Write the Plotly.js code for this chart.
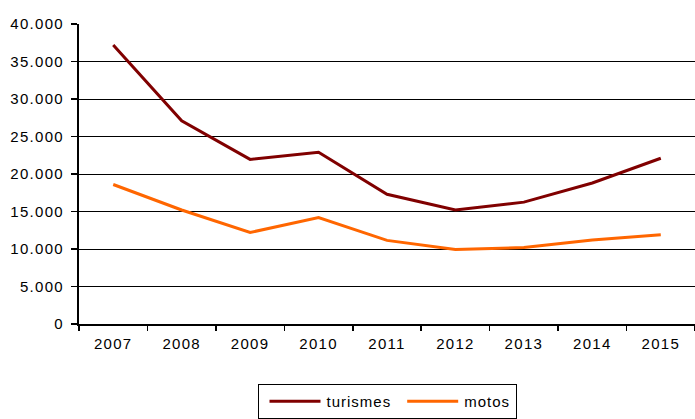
<!DOCTYPE html>
<html>
<head>
<meta charset="utf-8">
<script src="https://cdn.plot.ly/plotly-3.0.1.min.js"></script>
<style>
html,body{margin:0;padding:0;background:#fff;}
#chart{width:695px;height:419px;}
#chart .xtick text, #chart .ytick text{letter-spacing:1.3px;}
text.legendtext{letter-spacing:1px;}
</style>
</head>
<body>
<div id="chart"></div>
<script>
const years = ['2007','2008','2009','2010','2011','2012','2013','2014','2015'];
const turismes = [37200, 27100, 21950, 22900, 17300, 15200, 16250, 18800, 22100];
const motos = [18600, 15200, 12200, 14200, 11150, 9950, 10200, 11200, 11900];
const yTicks = [0, 5000, 10000, 15000, 20000, 25000, 30000, 35000, 40000];

const traces = [
  {x: years, y: turismes, name: 'turismes', type: 'scatter', mode: 'lines',
   line: {color: '#800000', width: 3}},
  {x: years, y: motos, name: 'motos', type: 'scatter', mode: 'lines',
   line: {color: '#FF6600', width: 3}}
];

const layout = {
  width: 695, height: 419,
  margin: {l: 79, r: 0, t: 24, b: 95},
  paper_bgcolor: '#fff', plot_bgcolor: '#fff',
  font: {family: 'Liberation Sans, Arial, sans-serif', size: 15, color: '#000'},
  separators: ',.',
  showlegend: true,
  legend: {orientation: 'h', x: 0.5, xanchor: 'center', y: -0.2, yanchor: 'top',
    bordercolor: '#000', borderwidth: 1, font: {size: 15}, itemwidth: 58},
  xaxis: {type: 'category', range: [-0.5, 8.5], showgrid: false, showline: true,
    linecolor: '#000', linewidth: 2, ticks: 'outside', tickson: 'boundaries',
    ticklen: 5, tickcolor: '#000', tickwidth: 1.5, zeroline: false, fixedrange: true,
    tickfont: {size: 15}, ticklabelstandoff: 5},
  yaxis: {range: [0, 40000], tickvals: yTicks, tickformat: ',d', showgrid: true,
    gridcolor: '#000', gridwidth: 1, showline: true, linecolor: '#000', linewidth: 2,
    ticks: 'outside', ticklen: 6, tickcolor: '#000', tickwidth: 1.5, zeroline: false,
    fixedrange: true, tickfont: {size: 15}, ticklabelstandoff: 4}
};

Plotly.newPlot('chart', traces, layout, {displayModeBar: false, staticPlot: true}).then(function (gd) {
  // legend line samples: 51px long, ending 6px before the label
  gd.querySelectorAll('.legend .traces').forEach(function (item) {
    const txt = item.querySelector('text.legendtext');
    const path = item.querySelector('.legendlines path');
    if (!txt || !path) return;
    const tx = parseFloat(txt.getAttribute('x')) || 40;
    path.setAttribute('d', 'M' + (tx - 57) + ',0h51');
  });
});
</script>
</body>
</html>
